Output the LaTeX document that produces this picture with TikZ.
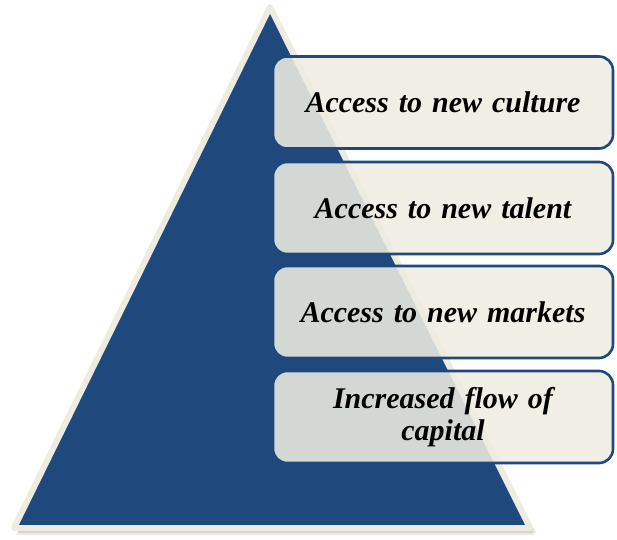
\documentclass[tikz,border=0pt]{standalone}
\usepackage{fontspec}
\setmainfont{Liberation Serif}
\begin{document}
\begin{tikzpicture}[x=1pt,y=1pt,
  tri/.style={fill=triblue, draw=beige, line width=6pt, line join=round},
  card/.style={draw=triblue, line width=2.6pt, fill=beige, fill opacity=0.88, draw opacity=1, rounded corners=14pt, minimum width=340pt, minimum height=92pt, text opacity=1, align=center, font=\fontsize{30}{32}\selectfont\bfseries\itshape, text width=330pt},
]
\definecolor{triblue}{HTML}{1F497D}
\definecolor{beige}{HTML}{EEECE1}
\useasboundingbox (0,0) rectangle (617,539);
% shadow
\fill[black, opacity=0.10] (274,529) -- (536,6) -- (18,6) -- cycle;
\fill[black, opacity=0.08] (273,530) -- (534,4) -- (16,4) -- cycle;
\draw[tri] (270,532) -- (530,11) -- (14,11) -- cycle;
\node[card] (c1) at (443,436.5) {Access to new culture};
\node[card] (c2) at (443,331) {Access to new talent};
\node[card] (c3) at (443,227) {Access to new markets};
\node[card] (c4) at (443,122) {Increased flow of\\capital};
\end{tikzpicture}
\end{document}
